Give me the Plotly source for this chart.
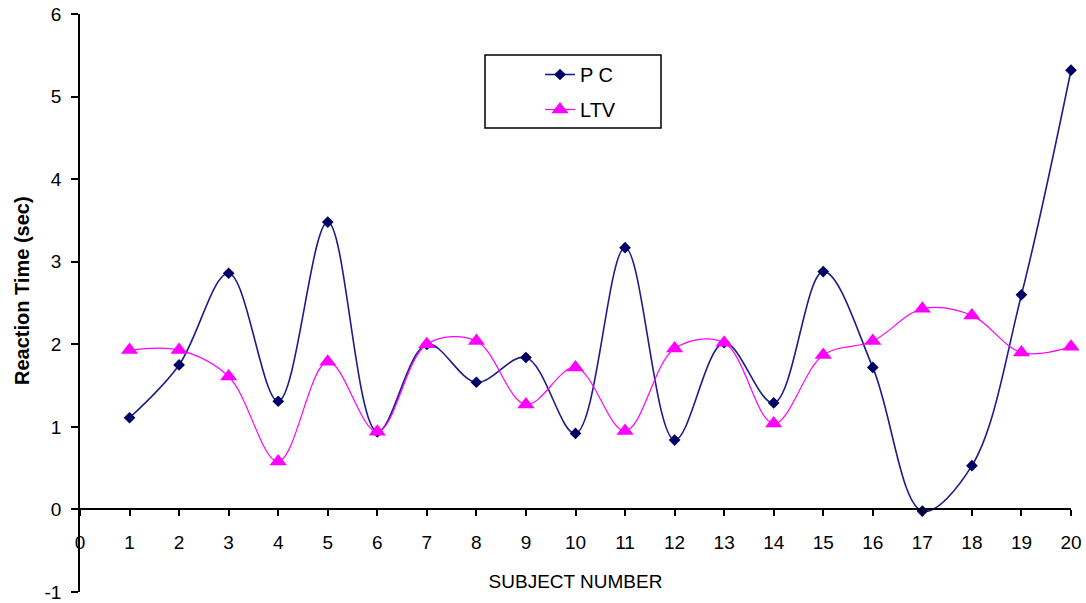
import plotly.graph_objects as go

subjects = list(range(1, 21))
pc_values = [1.11, 1.75, 2.86, 1.31, 3.48, 0.94, 2.00, 1.54, 1.84, 0.92,
             3.17, 0.84, 2.02, 1.29, 2.88, 1.72, -0.02, 0.53, 2.60, 5.32]
ltv_values = [1.93, 1.93, 1.61, 0.58, 1.79, 0.94, 2.00, 2.04, 1.27, 1.72,
              0.95, 1.95, 2.02, 1.04, 1.87, 2.04, 2.43, 2.35, 1.90, 1.97]
x_ticks = list(range(0, 21))
y_ticks = list(range(-1, 7))

FONT = "Liberation Sans, Arial, sans-serif"

W, H = 1086, 603
L, T = 80, 14
PW, PH = 991, 578

fig = go.Figure()
fig.add_trace(go.Scatter(
    x=subjects, y=pc_values, name="P C", mode="lines+markers",
    line=dict(color="#1c1c8c", width=1.6, shape="spline", smoothing=1.0),
    marker=dict(symbol="diamond", size=9, color="#000066"),
    cliponaxis=False, legendgroup="a",
))
fig.add_trace(go.Scatter(
    x=subjects, y=ltv_values, name="LTV", mode="lines+markers",
    line=dict(color="#ff00ff", width=1.2, shape="spline", smoothing=1.0),
    marker=dict(symbol="triangle-up", size=15, color="#ff00ff"),
    cliponaxis=False, legendgroup="b",
))

fig.update_layout(
    width=W, height=H,
    margin=dict(l=L, r=W - L - PW, t=T, b=H - T - PH),
    paper_bgcolor="white", plot_bgcolor="white",
    font=dict(family=FONT, size=19, color="black"),
    showlegend=True,
    legend=dict(
        x=(540 - 80) / PW, y=(592 - 55) / PH, xanchor="left", yanchor="top",
        bgcolor="rgba(0,0,0,0)", borderwidth=0,
        font=dict(family=FONT, size=20, color="black"),
        tracegroupgap=6, traceorder="grouped",
    ),
    xaxis=dict(
        range=[0, 20], tickvals=x_ticks, ticktext=[str(v) for v in x_ticks],
        showgrid=False, zeroline=False, showline=True, linecolor="black", linewidth=1.5,
        ticks="outside", ticklen=6, tickcolor="black", tickwidth=1.5,
        anchor="free", position=1/7, automargin=False,
        tickfont=dict(family=FONT, size=19), ticklabelstandoff=10,
        title=dict(text="SUBJECT NUMBER", font=dict(family=FONT, size=19), standoff=22),
    ),
    yaxis=dict(
        range=[-1, 6], tickvals=y_ticks, ticktext=[str(v) for v in y_ticks],
        showgrid=False, zeroline=False, showline=True, linecolor="black", linewidth=1.5,
        ticks="outside", ticklen=7, tickcolor="black", tickwidth=1.5,
        automargin=False, tickfont=dict(family=FONT, size=19), ticklabelstandoff=6,
        ticklabeloverflow="allow",
    ),
    annotations=[dict(
        text="<b>Reaction Time (sec)</b>", textangle=-90,
        xref="paper", yref="paper",
        x=(22 - 80) / PW, y=(592 - 291) / PH, xanchor="center", yanchor="middle",
        showarrow=False, font=dict(family=FONT, size=20, color="black"),
    )],
    shapes=[dict(
        type="rect", xref="paper", yref="paper",
        x0=(485 - 80) / PW, x1=(661 - 80) / PW,
        y0=(592 - 128) / PH, y1=(592 - 55) / PH,
        line=dict(color="black", width=1.5), fillcolor="rgba(0,0,0,0)",
    )],
)

fig.write_html("out.html", config={"displayModeBar": False},
               post_script="document.body.style.margin='0px';")
